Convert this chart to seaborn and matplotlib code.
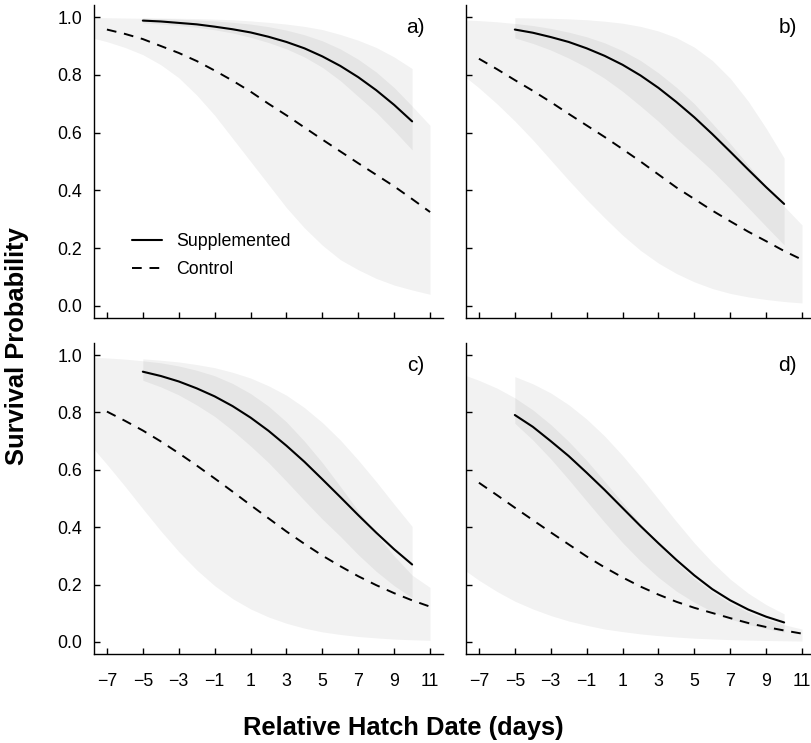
import matplotlib
matplotlib.use("Agg")
import matplotlib.pyplot as plt
import numpy as np
import pandas as pd
import seaborn as sns
from matplotlib.ticker import FormatStrFormatter

# x grids (relative hatch date, days)
DAYS_BAND = [-7.7] + list(range(-7, 12))
DAYS_CTRL = list(range(-7, 12))
DAYS_SUPP = list(range(-5, 11))

# panel a)
A_CTRL = [0.957, 0.942, 0.924, 0.900, 0.876, 0.848, 0.815, 0.780, 0.742, 0.700,
          0.660, 0.618, 0.576, 0.535, 0.494, 0.454, 0.414, 0.370, 0.325]
A_CTRL_LO = [0.926, 0.915, 0.895, 0.870, 0.835, 0.790, 0.730, 0.660, 0.580, 0.500,
             0.420, 0.340, 0.270, 0.210, 0.160, 0.125, 0.095, 0.072, 0.055, 0.040]
A_CTRL_HI = [0.9985, 0.998, 0.997, 0.996, 0.995, 0.993, 0.990, 0.987, 0.982, 0.976,
             0.967, 0.955, 0.939, 0.918, 0.890, 0.854, 0.810, 0.756, 0.692, 0.625]
A_SUPP = [0.988, 0.985, 0.980, 0.975, 0.967, 0.958, 0.947, 0.932, 0.914, 0.892,
          0.864, 0.831, 0.792, 0.747, 0.696, 0.639]
A_SUPP_LO = [0.980, 0.976, 0.971, 0.965, 0.956, 0.945, 0.930, 0.912, 0.890, 0.862,
             0.826, 0.780, 0.725, 0.670, 0.607, 0.540]
A_SUPP_HI = [0.998, 0.997, 0.996, 0.995, 0.993, 0.991, 0.987, 0.982, 0.976, 0.968,
             0.957, 0.940, 0.920, 0.895, 0.862, 0.822]

# panel b)
B_CTRL = [0.856, 0.820, 0.782, 0.745, 0.706, 0.665, 0.625, 0.585, 0.543, 0.500,
          0.455, 0.410, 0.370, 0.330, 0.293, 0.257, 0.224, 0.190, 0.160]
B_CTRL_LO = [0.790, 0.755, 0.700, 0.640, 0.575, 0.505, 0.435, 0.368, 0.305, 0.245,
             0.192, 0.148, 0.112, 0.083, 0.060, 0.043, 0.031, 0.022, 0.015, 0.010]
B_CTRL_HI = [0.990, 0.988, 0.984, 0.978, 0.971, 0.961, 0.948, 0.932, 0.911, 0.884,
             0.850, 0.807, 0.757, 0.700, 0.632, 0.562, 0.488, 0.415, 0.345, 0.280]
B_SUPP = [0.957, 0.946, 0.931, 0.914, 0.892, 0.866, 0.835, 0.798, 0.755, 0.706,
          0.653, 0.595, 0.534, 0.472, 0.411, 0.353]
B_SUPP_LO = [0.928, 0.909, 0.886, 0.858, 0.826, 0.788, 0.743, 0.692, 0.639, 0.580,
             0.525, 0.468, 0.405, 0.340, 0.275, 0.211]
B_SUPP_HI = [0.998, 0.997, 0.996, 0.994, 0.991, 0.986, 0.979, 0.968, 0.952, 0.929,
             0.896, 0.850, 0.788, 0.709, 0.615, 0.512]

# panel c)
C_CTRL = [0.803, 0.771, 0.737, 0.699, 0.658, 0.615, 0.570, 0.524, 0.477, 0.431,
          0.385, 0.342, 0.301, 0.264, 0.229, 0.198, 0.170, 0.145, 0.123]
C_CTRL_LO = [0.670, 0.619, 0.543, 0.464, 0.387, 0.315, 0.251, 0.196, 0.151, 0.115,
             0.087, 0.065, 0.048, 0.035, 0.026, 0.019, 0.014, 0.010, 0.0075, 0.0055]
C_CTRL_HI = [0.992, 0.990, 0.986, 0.980, 0.973, 0.962, 0.947, 0.928, 0.901, 0.866,
             0.822, 0.767, 0.700, 0.625, 0.542, 0.457, 0.375, 0.300, 0.233, 0.190]
C_SUPP = [0.942, 0.927, 0.908, 0.884, 0.856, 0.822, 0.782, 0.736, 0.684, 0.628,
          0.567, 0.505, 0.442, 0.381, 0.323, 0.270]
C_SUPP_LO = [0.912, 0.889, 0.861, 0.826, 0.786, 0.737, 0.683, 0.625, 0.560, 0.493,
             0.428, 0.368, 0.304, 0.246, 0.196, 0.154]
C_SUPP_HI = [0.987, 0.982, 0.976, 0.967, 0.956, 0.940, 0.920, 0.893, 0.860, 0.817,
             0.765, 0.704, 0.634, 0.559, 0.480, 0.403]

# panel d)
D_CTRL = [0.555, 0.512, 0.468, 0.425, 0.382, 0.340, 0.298, 0.260, 0.225, 0.193,
          0.165, 0.140, 0.119, 0.101, 0.083, 0.066, 0.052, 0.040, 0.029]
D_CTRL_LO = [0.246, 0.215, 0.176, 0.142, 0.115, 0.092, 0.073, 0.058, 0.045, 0.036,
             0.028, 0.022, 0.017, 0.013, 0.0105, 0.008, 0.0064, 0.005, 0.004, 0.003]
D_CTRL_HI = [0.928, 0.912, 0.885, 0.851, 0.809, 0.758, 0.699, 0.633, 0.560, 0.486,
             0.412, 0.341, 0.277, 0.221, 0.174, 0.135, 0.104, 0.079, 0.060, 0.045]
D_SUPP = [0.791, 0.750, 0.700, 0.648, 0.590, 0.530, 0.467, 0.404, 0.344, 0.286,
          0.232, 0.184, 0.145, 0.113, 0.088, 0.068]
D_SUPP_LO = [0.762, 0.704, 0.638, 0.566, 0.491, 0.417, 0.346, 0.282, 0.225, 0.177,
             0.138, 0.106, 0.080, 0.061, 0.046, 0.034]
D_SUPP_HI = [0.925, 0.900, 0.868, 0.827, 0.777, 0.718, 0.650, 0.576, 0.498, 0.420,
             0.345, 0.278, 0.219, 0.170, 0.130, 0.098]

PANEL_LABELS = ["a)", "b)", "c)", "d)"]
X_TICKS = list(range(-7, 12, 2))
Y_TICKS = [0.0, 0.2, 0.4, 0.6, 0.8, 1.0]

sns.set_theme(style="ticks")
plt.rcParams.update({
    "font.family": ["Liberation Sans", "DejaVu Sans"],
    "text.color": "black",
    "axes.labelcolor": "black",
    "xtick.color": "black",
    "ytick.color": "black",
})

fig = plt.figure(figsize=(8.12, 7.43), dpi=100)
W, H = 812, 743
# axes boxes in pixel units: left, top, width, height
boxes = [(94, 5, 349, 313), (466, 5, 349, 313), (94, 343, 349, 311), (466, 343, 349, 311)]

panels = [
    (A_CTRL, A_CTRL_LO, A_CTRL_HI, A_SUPP, A_SUPP_LO, A_SUPP_HI),
    (B_CTRL, B_CTRL_LO, B_CTRL_HI, B_SUPP, B_SUPP_LO, B_SUPP_HI),
    (C_CTRL, C_CTRL_LO, C_CTRL_HI, C_SUPP, C_SUPP_LO, C_SUPP_HI),
    (D_CTRL, D_CTRL_LO, D_CTRL_HI, D_SUPP, D_SUPP_LO, D_SUPP_HI),
]

for i, (box, vals, lab) in enumerate(zip(boxes, panels, PANEL_LABELS)):
    l, t, w, h = box
    ax = fig.add_axes([l / W, 1 - (t + h) / H, w / W, h / H])
    ctrl, ctrl_lo, ctrl_hi, supp, supp_lo, supp_hi = vals

    # confidence bands, translucent so the overlap reads darker
    ax.fill_between(DAYS_BAND, ctrl_lo, ctrl_hi, color="black", alpha=0.05, lw=0)
    ax.fill_between(DAYS_SUPP, supp_lo, supp_hi, color="black", alpha=0.05, lw=0)

    df_s = pd.DataFrame({"day": DAYS_SUPP, "p": supp})
    df_c = pd.DataFrame({"day": DAYS_CTRL, "p": ctrl})
    first = i == 0
    sns.lineplot(data=df_s, x="day", y="p", ax=ax, color="black", lw=1.5,
                 label="Supplemented" if first else None, legend=False)
    sns.lineplot(data=df_c, x="day", y="p", ax=ax, color="black", lw=1.4,
                 linestyle=(0, (5, 4)),
                 label="Control" if first else None, legend=False)

    ax.set_xlim(-7.72, 11.72)
    ax.set_ylim(-0.042, 1.042)
    ax.set_xticks(X_TICKS)
    ax.set_yticks(Y_TICKS)
    ax.yaxis.set_major_formatter(FormatStrFormatter("%.1f"))
    ax.set_xlabel("")
    ax.set_ylabel("")
    ax.tick_params(axis="both", direction="in", length=4, width=1,
                   labelsize=12.8, colors="black")
    ax.tick_params(axis="y", pad=8.5)
    ax.tick_params(axis="x", pad=14)
    if i < 2:
        ax.tick_params(axis="x", labelbottom=False)
    if i % 2 == 1:
        ax.tick_params(axis="y", labelleft=False)
    sns.despine(ax=ax)
    for s in ("left", "bottom"):
        ax.spines[s].set_linewidth(1.0)
        ax.spines[s].set_color("black")
    ax.set_facecolor("white")

    ax.text(10.7, 0.963, lab, ha="right", va="center", fontsize=15)

    if first:
        ax.legend(frameon=False, loc="upper left", bbox_to_anchor=(0.108, 0.271),
                  borderaxespad=0, borderpad=0, handlelength=1.7,
                  handletextpad=0.8, labelspacing=0.6, fontsize=12.8)

fig.text(17 / W, 1 - 346 / H, "Survival Probability", rotation=90, ha="center",
         va="center", fontsize=18.4, fontweight="bold")
fig.text(403 / W, 1 - 728 / H, "Relative Hatch Date (days)", ha="center",
         va="center", fontsize=18.4, fontweight="bold")

fig.savefig("out.png", dpi=100, facecolor="white")
